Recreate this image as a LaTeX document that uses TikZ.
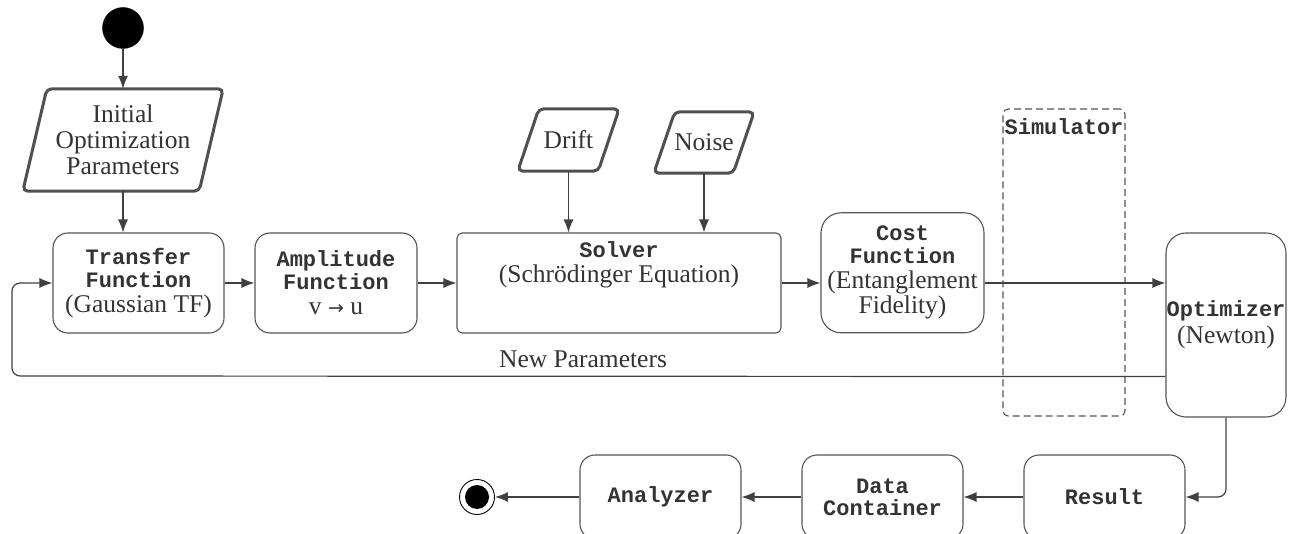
\documentclass[tikz,border=0pt]{standalone}
\usepackage{fontspec}
\setmainfont{Liberation Serif}
\setmonofont{Liberation Mono}
\newfontfamily\arrowfont{DejaVu Sans}
\usetikzlibrary{arrows.meta,calc}
\definecolor{linec}{HTML}{404040}
\definecolor{boxc}{HTML}{555555}
\definecolor{parac}{HTML}{505050}
\definecolor{txtc}{HTML}{333333}
\newcommand\hd[1]{{\fontsize{22}{23}\selectfont\ttfamily\bfseries #1}}
\tikzset{
  every node/.style={text=txtc, font=\fontsize{25.5}{25}\selectfont, align=center, inner sep=0pt},
  box/.style={draw=boxc, line width=1.1pt, rounded corners=15pt},
  paratext/.style={inner sep=0pt},
  parashape/.style={draw=parac, line width=3pt, rounded corners=5pt},
  arr/.style={draw=linec, line width=1.2pt, -{Latex[length=13pt,width=10pt]}},
  simbox/.style={draw=boxc, line width=1.1pt, dash pattern=on 7pt off 4pt, rounded corners=5pt},
}
\begin{document}
\begin{tikzpicture}[x=1pt,y=-1pt]
\useasboundingbox (0,0) rectangle (1293,534);
\clip (0,0) rectangle (1293,534);
% start / end
\node[circle, fill=black, draw=black, minimum size=41pt] (start) at (123,28) {};
\node[circle, draw=black, line width=0.9pt, minimum size=35pt] (final) at (477,497) {};
\fill[black] (final.center) circle[radius=12pt];
% parallelograms (text holders)
\node[paratext, minimum width=200pt, minimum height=102pt] (init) at (123,140) {Initial\\[1pt]Optimization\\[1pt]Parameters};
\node[paratext, minimum width=101pt, minimum height=62pt] (drift) at (568.5,140) {Drift};
\node[paratext, minimum width=100pt, minimum height=61pt] (noise) at (704,142.5) {Noise};
\foreach \p/\s in {init/24, drift/21, noise/21}{
  \draw[parashape] ($(\p.north west)+(\s,0)$) -- (\p.north east) -- ($(\p.south east)+(-\s,0)$) -- (\p.south west) -- cycle;
}
% simulator
\node[simbox, minimum width=122pt, minimum height=307pt] (sim) at (1064,262.5) {};
\node[anchor=north] (simlabel) at ($(sim.north)+(0,10)$) {\hd{Simulator}};
% boxes
\node[box, minimum width=171pt, minimum height=100pt] (tf) at (138.5,283) {\hd{Transfer}\\[-2pt]\hd{Function}\\(Gaussian TF)};
\node[box, minimum width=162pt, minimum height=100pt] (amp) at (336,283) {\hd{Amplitude}\\[-2pt]\hd{Function}\\v {\arrowfont\fontsize{19}{19}\selectfont →} u};
\node[box, rounded corners=5pt, minimum width=324pt, minimum height=100pt] (solver) at (619,283) {};
\node (solvertext) at ($(solver.center)+(0,-18)$) {\hd{Solver}\\(Schrödinger Equation)};
\node[box, rounded corners=20pt, minimum width=163pt, minimum height=120pt] (cost) at (902.5,272.8) {\hd{Cost}\\[-2pt]\hd{Function}\\(Entanglement\\Fidelity)};
\node[box, rounded corners=20pt, minimum width=120pt, minimum height=184pt] (opt) at (1226,325) {\hd{Optimizer}\\[2pt](Newton)};
\node[box, minimum width=161pt, minimum height=84pt] (result) at (1104.5,497) {\hd{Result}};
\node[box, minimum width=161pt, minimum height=84pt] (dc) at (882.5,497) {\hd{Data}\\[-3pt]\hd{Container}};
\node[box, minimum width=161pt, minimum height=84pt] (an) at (660.5,497) {\hd{Analyzer}};
% connectors
\draw[arr] (start) -- (init.north);
\draw[arr] (init.south) -- (init.south |- tf.north);
\draw[arr] (tf) -- (amp);
\draw[arr] (amp) -- (solver);
\draw[arr] (drift.south) -- (drift.south |- solver.north);
\draw[arr] (noise.south) -- (noise.south |- solver.north);
\draw[arr] (solver.east) -- (solver.east -| cost.west);
\draw[arr] (cost.east |- solver.east) -- (opt.west |- solver.east);
\coordinate (loopstart) at ($(opt.south west)+(0,-41)$);
\coordinate (loopx) at (12,376);
\draw[arr, rounded corners=8pt] (loopstart) -- (loopx) |- (tf.west);
\node (newparam) at (583,359) {New Parameters};
\draw[arr, rounded corners=8pt] (opt.south) |- (result.east);
\draw[arr] (result) -- (dc);
\draw[arr] (dc) -- (an);
\draw[arr] (an) -- (final);
\end{tikzpicture}
\end{document}
